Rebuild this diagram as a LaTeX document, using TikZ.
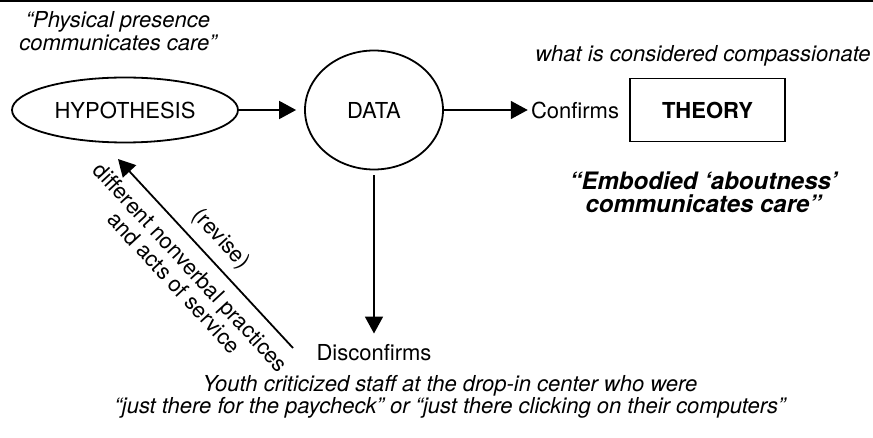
\documentclass[tikz,border=0pt]{standalone}
\usepackage{fontspec}
\setmainfont{TeX Gyre Heros}
\usepackage{tikz}
\usetikzlibrary{arrows.meta, shapes.geometric}

\begin{document}
\begin{tikzpicture}[every node/.style={inner sep=0.5mm, font=\fontsize{11pt}{11.25pt}\selectfont},
        oval/.style={ellipse, draw, line width=0.9pt},
        flow/.style={-{Triangle[length=8.5pt,width=9pt]}, line width=0.9pt},
        note/.style={align=center, font=\fontsize{11pt}{11.25pt}\selectfont\itshape}]
        \coordinate (nw) at (-62.5pt,55pt);
        \coordinate (se) at (374pt,-164pt);
        \useasboundingbox (nw) rectangle (se);
        \draw[line width=1.2pt] (nw) ++(0,-0.6pt) -- ++(436.5pt,0);

        \node[oval, minimum width=113pt, minimum height=32.5pt] (hyp) {HYPOTHESIS};
        \node[oval, minimum width=69pt, minimum height=59.5pt] (data) [right of = hyp, node distance=124.5pt] {DATA};
        \node (conf) [right of = data, node distance=100.5pt] {Confirms};
        \node[draw, line width=0.9pt, minimum width=77.5pt, minimum height=31.5pt,
            font=\fontsize{11pt}{11.25pt}\selectfont\bfseries] (theory) [right of = data, node distance=166.75pt] {THEORY};
        \node (dis) [below of = data, node distance=121.5pt] {Disconfirms};

        \node[note] (phys) [above of = hyp, node distance=39.5pt, xshift=-3.5pt] {“Physical presence\\communicates care”};
        \node[note] (compass) [above of = theory, node distance=27pt, xshift=-2.25pt] {what is considered compassionate};
        \node[note, font=\fontsize{12pt}{11.5pt}\selectfont\bfseries\itshape] (embod) [below of = theory, node distance=41pt, xshift=-2pt] {“Embodied ‘aboutness’\\communicates care”};
        \node[note] (youth) [below of = dis, node distance=22pt, xshift=38pt] {Youth criticized staff at the drop-in center who were\\“just there for the paycheck” or “just there clicking on their computers”};

        \path (hyp) edge[flow, shorten >=4pt] (data)
            (data) edge[flow] (conf)
            (data) edge[flow, shorten <=2.5pt, shorten >=4pt] (dis);

        % revise loop back to the hypothesis
        \coordinate (revtop) at ([shift={(-3.5pt,-24.5pt)}]hyp.center);
        \coordinate (revbot) at ([shift={(84pt,-119pt)}]hyp.center);
        \draw[flow] (revbot) -- (revtop)
            node[midway, sloped, above=3.3pt] {(revise)}
            node[midway, sloped, below=4pt, align=center] {different nonverbal practices\\and acts of service};
    \end{tikzpicture}
\end{document}
